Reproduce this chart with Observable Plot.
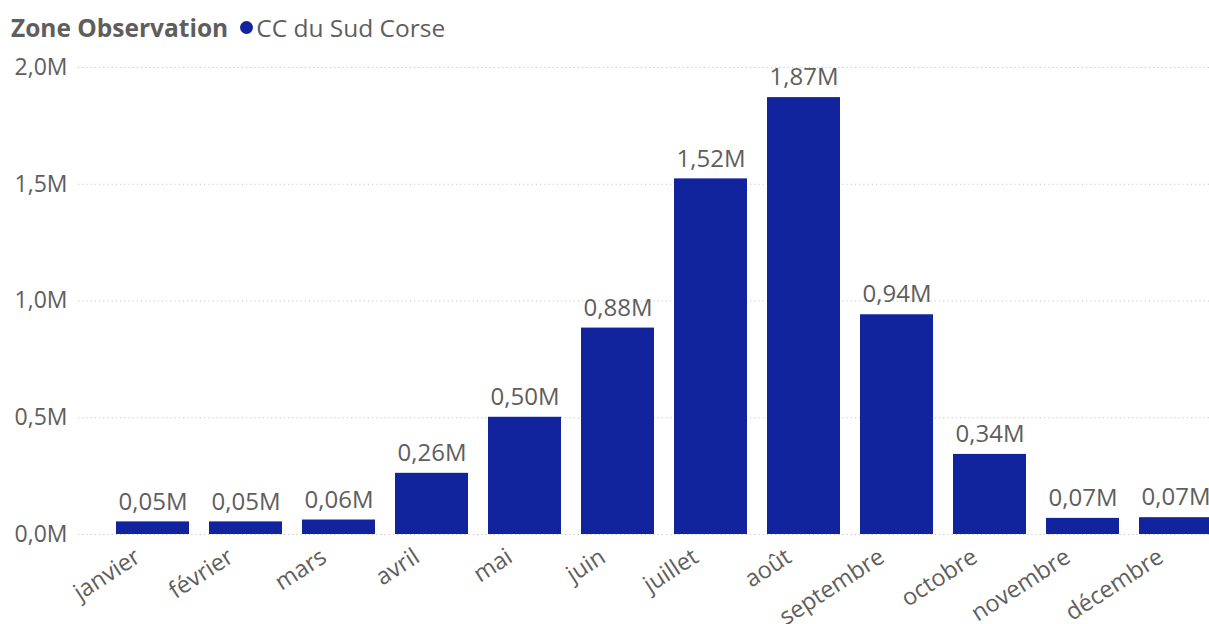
<!DOCTYPE html>
<html>
<head>
<meta charset="utf-8">
<script src="https://cdn.jsdelivr.net/npm/d3@7"></script>
<script src="https://cdn.jsdelivr.net/npm/@observablehq/plot@0.6"></script>
<style>
  html, body { margin: 0; padding: 0; background: #fff; overflow: hidden; }
  body { width: 1209px; height: 624px; font-family: "Open Sans", "Noto Sans", sans-serif; }
  #header { height: 48px; display: flex; align-items: center; padding-left: 11px; padding-top: 6px; box-sizing: border-box; white-space: nowrap; }
  #title { font-weight: 700; font-size: 24.5px; color: #605E5C; margin-right: 12px; }
  #dot { width: 13px; height: 13px; border-radius: 50%; background: #12239E; display: inline-block; margin-right: 3px; }
  #series { font-size: 24.5px; color: #605E5C; }
  #chart svg { overflow: hidden; display: block; }
</style>
</head>
<body>
<div id="header"><span id="title">Zone Observation</span><span id="dot"></span><span id="series">CC du Sud Corse</span></div>
<div id="chart"></div>
<script>
const months = ["janvier","février","mars","avril","mai","juin","juillet","août","septembre","octobre","novembre","décembre"];
const values = [0.054, 0.054, 0.062, 0.262, 0.502, 0.884, 1.523, 1.871, 0.941, 0.343, 0.069, 0.072];
const yTicks = [0, 0.5, 1.0, 1.5, 2.0];

const data = months.map((m, i) => ({month: m, value: values[i]}));
const fmt1 = v => v.toFixed(1).replace(".", ",") + "M";
const fmt2 = v => v.toFixed(2).replace(".", ",") + "M";
const textColor = "#605E5C";

const chart = Plot.plot({
  width: 1209,
  height: 576,
  marginTop: 19,
  marginBottom: 90,
  marginLeft: 78,
  marginRight: 0,
  style: { fontFamily: "'Open Sans', 'Noto Sans', sans-serif", background: "#fff", overflow: "hidden" },
  x: { domain: months, range: [96, 1232], padding: 0.215, axis: null },
  y: { domain: [0, 2.0], axis: null },
  marks: [
    Plot.ruleY(yTicks, { stroke: "#C8C6C4", strokeDasharray: "1.2,3", strokeWidth: 1 }),
    Plot.text(yTicks, { y: d => d, text: fmt1, frameAnchor: "left", textAnchor: "end", dx: -11, fill: textColor, fontSize: 23 }),
    Plot.barY(data, { x: "month", y: "value", fill: "#12239E" }),
    Plot.text(data, { x: "month", y: "value", text: d => fmt2(d.value), dy: -20, fill: textColor, fontSize: 24 }),
    Plot.text(months, { x: d => d, text: d => d, frameAnchor: "bottom", rotate: -33, textAnchor: "end", lineAnchor: "middle", dx: -15, dy: 20, fill: textColor, fontSize: 23.5 })
  ]
});
document.getElementById("chart").appendChild(chart);
</script>
</body>
</html>
